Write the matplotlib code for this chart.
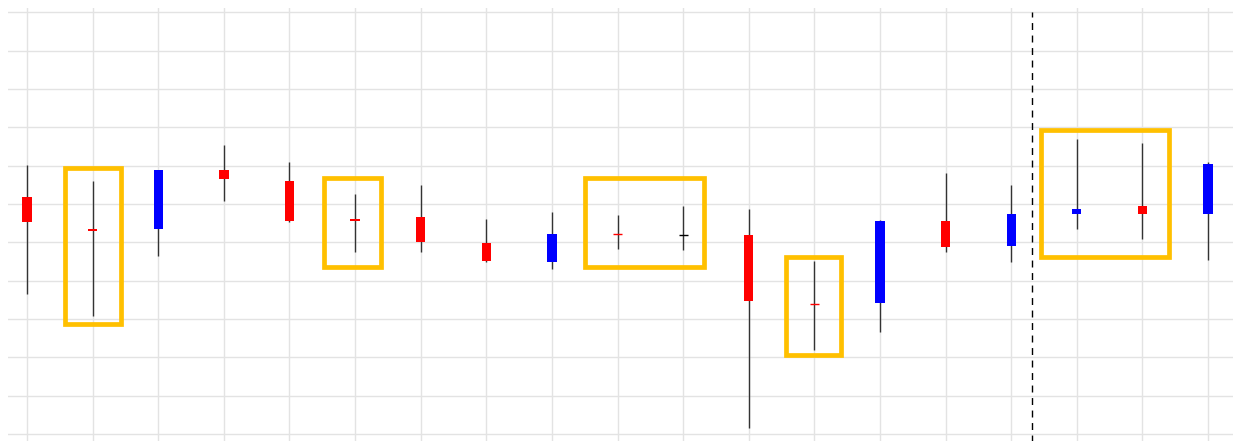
import matplotlib
matplotlib.use('Agg')
from matplotlib import pyplot as plt
from matplotlib.patches import Rectangle

# candle data (arbitrary price units, gridline every 10)
opens = [155.3, 152.9, 168.8, 166.4, 155.5, 155.6, 150.1, 145.2, 152.2, 152.1,
         151.9, 134.8, 134.0, 155.5, 148.8, 157.4, 158.7, 157.4, 170.4]
closes = [161.7, 153.5, 153.6, 168.8, 166.0, 156.0, 156.6, 149.8, 144.9, 152.15,
          151.9, 151.9, 134.05, 134.1, 155.5, 149.0, 157.4, 159.4, 157.4]
highs = [170.1, 166.0, 168.9, 175.5, 170.9, 162.6, 165.0, 156.1, 157.9, 157.1,
         159.5, 158.7, 145.1, 155.8, 168.0, 165.0, 176.9, 175.8, 170.9]
lows = [136.5, 130.8, 146.5, 160.9, 155.3, 147.4, 147.4, 144.9, 143.0, 148.2,
        147.9, 101.7, 121.9, 126.7, 147.4, 144.9, 153.6, 150.9, 145.5]

# highlight boxes: (x0, x1, y0, y1)
boxes = [(0.58, 1.43, 128.6, 169.3),
         (4.52, 5.40, 143.5, 166.8),
         (8.51, 10.32, 143.5, 166.8),
         (11.56, 12.41, 120.7, 146.2),
         (15.45, 17.41, 146.3, 179.4)]
split_x = 15.31

fig = plt.figure(figsize=(12.33, 4.41), dpi=100)
ax = fig.add_axes([8 / 1233, 0, 1 - 8 / 1233, 1 - 8 / 441])

n = len(opens)
xs = list(range(n))
width = 0.142

ax.vlines(xs, lows, highs, color='#333333', linewidth=1.0, zorder=2)

for i in xs:
    o, c = opens[i], closes[i]
    if c > o:
        color = '#ff0000'
    elif c < o:
        color = '#0000ff'
    else:
        color = '#000000'
    h = abs(c - o)
    if h < 0.3:
        ax.hlines((o + c) / 2, i - width / 2, i + width / 2, color=color,
                  linewidth=1.0, zorder=3)
    else:
        ax.bar(i, h, bottom=min(o, c), width=width, color=color,
               linewidth=0, zorder=3)

for x0, x1, y0, y1 in boxes:
    ax.add_patch(Rectangle((x0, y0), x1 - x0, y1 - y0, fill=False,
                           edgecolor='#ffc000', linewidth=3.4, zorder=4))

ax.vlines(split_x, 98, 210, color='black', linestyle=(0, (5, 4)),
          linewidth=1.0, zorder=4)

ax.set_xlim(-0.29, 18.38)
ax.set_ylim(98.2, 211.1)
ax.set_xticks(xs)
ax.set_yticks(range(100, 211, 10))
ax.tick_params(length=0, labelbottom=False, labelleft=False)
ax.grid(True, color='#e3e3e3', linewidth=1.0, zorder=0)
ax.set_axisbelow(True)
for s in ax.spines.values():
    s.set_visible(False)

fig.savefig('out.png', dpi=100)
plt.close()
